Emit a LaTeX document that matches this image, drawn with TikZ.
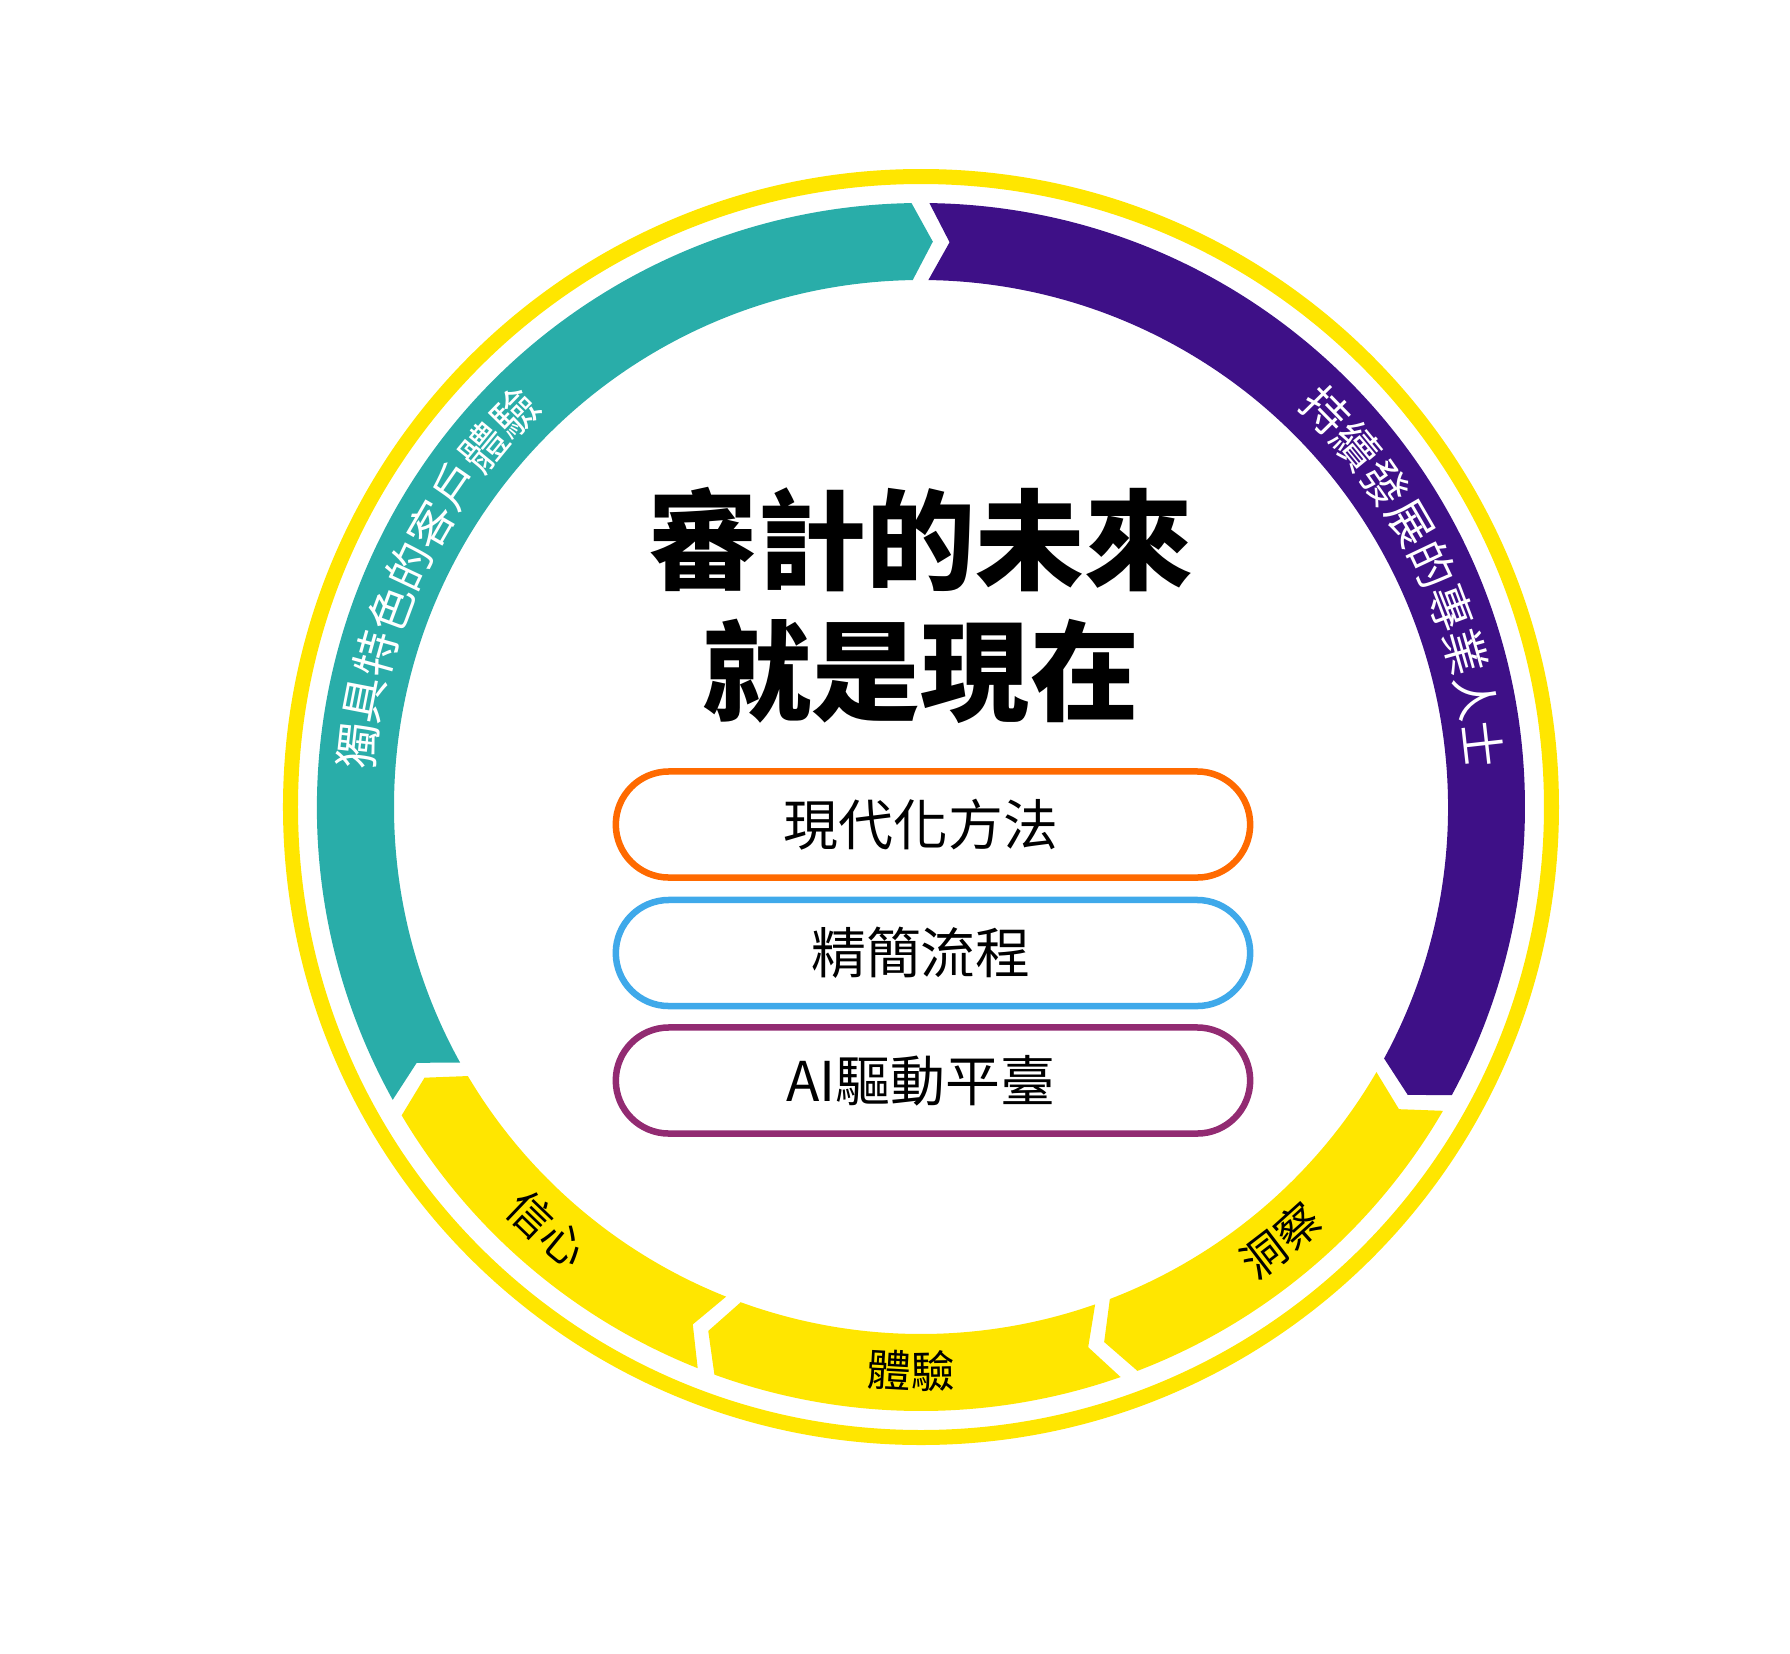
\documentclass[tikz,border=0pt]{standalone}
\usepackage{fontspec}
\setmainfont{Noto Sans CJK TC}
\usepackage{tikz}
\usetikzlibrary{shapes.misc}
\definecolor{ringyellow}{HTML}{FFE600}
\definecolor{tealband}{HTML}{29ADA9}
\definecolor{purpleband}{HTML}{3E1087}
\definecolor{pillorange}{HTML}{FF6A00}
\definecolor{pillblue}{HTML}{3FA9EA}
\definecolor{pillplum}{HTML}{922B72}
\tikzstyle{bandtxt}   = [font=\fontsize{13}{13}\selectfont, text=white, inner sep=0pt]
\tikzstyle{yellowtxt} = [font=\fontsize{12.5}{12.5}\selectfont, text=black, inner sep=0pt]
\tikzstyle{pill}      = [rounded rectangle, line width=0.065cm, minimum width=6.34cm, minimum height=1.06cm, inner sep=0pt, font=\fontsize{15.6}{16}\selectfont]
\tikzstyle{headline}  = [align=center, inner sep=0pt, font=\fontsize{31}{37.3}\selectfont\bfseries]

\begin{document}
\begin{tikzpicture}[x=0.01cm, y=0.01cm]
        \useasboundingbox (-921,-846) rectangle (869,807);

        % outer ring
        \draw[ringyellow, line width=0.15cm] (0,0) circle[radius=630.5];

        % arrow bands, clockwise
        \fill[tealband] (209:604) arc[start angle=209, end angle=90.9, radius=604] -- (88.8:565.5) -- (90.9:527) arc[start angle=90.9, end angle=209, radius=527] -- (206.9:565.5) -- cycle;
        \fill[purpleband] (89.2:604) arc[start angle=89.2, end angle=-28.5, radius=604] -- (-30.6:565.5) -- (-28.5:527) arc[start angle=-28.5, end angle=89.2, radius=527] -- (87.1:565.5) -- cycle;
        \fill[ringyellow] (-30.2:604) arc[start angle=-30.2, end angle=-69, radius=604] -- (-71.1:565.5) -- (-69:527) arc[start angle=-69, end angle=-30.2, radius=527] -- (-32.3:565.5) -- cycle;
        \fill[ringyellow] (-70.7:604) arc[start angle=-70.7, end angle=-110, radius=604] -- (-112.1:565.5) -- (-110:527) arc[start angle=-110, end angle=-70.7, radius=527] -- (-72.8:565.5) -- cycle;
        \fill[ringyellow] (-111.7:604) arc[start angle=-111.7, end angle=-149.3, radius=604] -- (-151.4:565.5) -- (-149.3:527) arc[start angle=-149.3, end angle=-111.7, radius=527] -- (-113.8:565.5) -- cycle;

        % teal band text
        \node[bandtxt, rotate=83.8] (cx1) at (173.8:566) {獨};
        \node[bandtxt, rotate=79.05] (cx2) at (169.05:566) {具};
        \node[bandtxt, rotate=74.3] (cx3) at (164.3:566) {特};
        \node[bandtxt, rotate=69.55] (cx4) at (159.55:566) {色};
        \node[bandtxt, rotate=64.8] (cx5) at (154.8:566) {的};
        \node[bandtxt, rotate=60.05] (cx6) at (150.05:566) {客};
        \node[bandtxt, rotate=55.3] (cx7) at (145.3:566) {戶};
        \node[bandtxt, rotate=50.55] (cx8) at (140.55:566) {體};
        \node[bandtxt, rotate=45.8] (cx9) at (135.8:566) {驗};

        % purple band text
        \node[bandtxt, rotate=-45.6] (pro1) at (44.4:566) {持};
        \node[bandtxt, rotate=-50.35] (pro2) at (39.65:566) {續};
        \node[bandtxt, rotate=-55.1] (pro3) at (34.9:566) {發};
        \node[bandtxt, rotate=-59.85] (pro4) at (30.15:566) {展};
        \node[bandtxt, rotate=-64.6] (pro5) at (25.4:566) {的};
        \node[bandtxt, rotate=-69.35] (pro6) at (20.65:566) {專};
        \node[bandtxt, rotate=-74.1] (pro7) at (15.9:566) {業};
        \node[bandtxt, rotate=-78.85] (pro8) at (11.15:566) {人};
        \node[bandtxt, rotate=-83.6] (pro9) at (6.4:566) {士};

        % yellow band text
        \node[yellowtxt, rotate=37.45] (ins1) at (-52.55:564) {洞};
        \node[yellowtxt, rotate=41.95] (ins2) at (-48.05:564) {察};
        \node[yellowtxt, rotate=-3.25] (exp1) at (-93.25:564) {體};
        \node[yellowtxt, rotate=1.25] (exp2) at (-88.75:564) {驗};
        \node[yellowtxt, rotate=-43.75] (con1) at (-133.75:564) {信};
        \node[yellowtxt, rotate=-39.25] (con2) at (-129.25:564) {心};

        % centre
        \node[headline] (headline) at (0,202) {審計的未來\\就是現在};
        \node[pill, draw=pillorange] (method) at (12,-17.5) {現代化方法\rule{0.24cm}{0pt}};
        \node[pill, draw=pillblue] (process) at (12,-146) {精簡流程\rule{0.24cm}{0pt}};
        \node[pill, draw=pillplum] (platform) at (12,-273.5) {AI驅動平臺\rule{0.24cm}{0pt}};
    \end{tikzpicture}
\end{document}
